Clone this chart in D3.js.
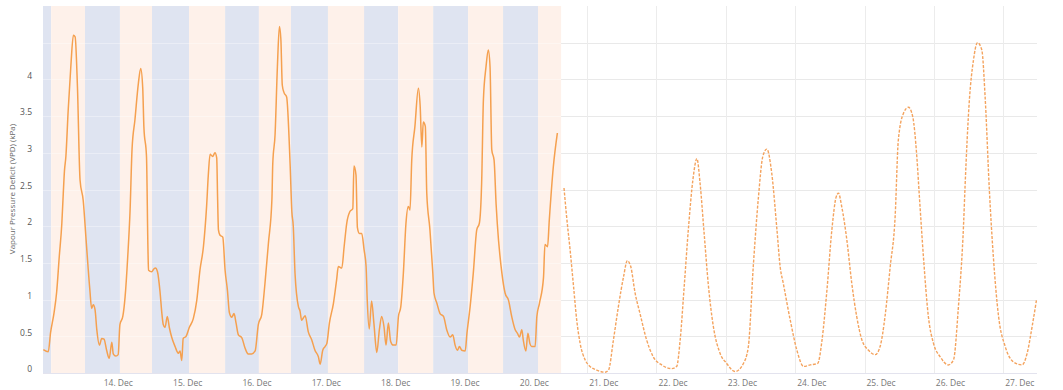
<!DOCTYPE html>
<html><head><meta charset="utf-8">
<script src="https://cdn.jsdelivr.net/npm/d3@7"></script>
<style>
html,body{margin:0;padding:0;background:#fff;}
svg{display:block;font-family:"Open Sans",sans-serif;}
</style>
</head><body>
<svg id="chart" width="1063" height="390"></svg>
<script>
// ---- data (hours counted from 13 Dec 00:00) ----
const baseDate = Date.UTC(2019, 11, 13);
const xDomainHours = [3.68, 347.7];
const yDomain = [0, 5];
const yGridTicks = [0, 0.5, 1, 1.5, 2, 2.5, 3, 3.5, 4, 4.5];
const yLabelTicks = [0, 0.5, 1, 1.5, 2, 2.5, 3, 3.5, 4];
const xTickDays = [14, 15, 16, 17, 18, 19, 20, 21, 22, 23, 24, 25, 26, 27];
const yAxisTitle = "Vapour Pressure Deficit (VPD) (kPa)";

const nightBands = [[3.68, 6.5], [18.2, 30.3], [41.4, 54.2], [66.7, 78.4], [89.5, 102.3], [114.8, 126.6], [138.7, 150.8], [162.9, 175.0]];
const dayBands = [[6.5, 18.2], [30.3, 41.4], [54.2, 66.7], [78.4, 89.5], [102.3, 114.8], [126.6, 138.7], [150.8, 162.9], [175.0, 183.0]];

const measured = [
 [3.8,0.32],[5.5,0.29],[6.3,0.55],[7.5,0.82],[8.4,1.10],[9.3,1.58],[10.2,2.04],[10.7,2.45],[11.1,2.75],[11.6,2.95],
 [12.4,3.58],[13.3,4.17],[14.2,4.60],[14.8,4.58],[15.6,3.90],[16.5,2.63],[17.6,2.35],[18.6,1.81],[19.9,1.13],[20.5,0.88],
 [21.1,0.93],[21.7,0.86],[22.3,0.59],[23.2,0.38],[24.0,0.47],[24.8,0.46],[25.7,0.31],[26.6,0.20],[27.5,0.42],[28.0,0.26],
 [28.9,0.23],[29.7,0.25],[30.3,0.66],[31.3,0.77],[32.1,1.04],[33.0,1.58],[33.8,2.20],[34.5,3.05],[35.5,3.45],[36.7,3.95],
 [37.5,4.15],[38.2,3.88],[38.6,3.35],[39.5,2.95],[40.0,1.70],[40.2,1.40],[41.3,1.38],[42.1,1.42],[42.6,1.43],[43.3,1.38],
 [44.2,1.10],[44.8,0.82],[45.3,0.66],[45.9,0.62],[46.7,0.77],[47.4,0.62],[48.2,0.49],[49.4,0.36],[50.5,0.27],[51.1,0.30],
 [51.7,0.17],[52.2,0.47],[53.2,0.50],[54.3,0.62],[55.7,0.74],[56.9,0.99],[58.0,1.40],[59.2,1.72],[60.3,2.27],[60.9,2.70],
 [61.5,2.98],[62.4,2.95],[63.2,3.00],[63.8,2.93],[64.1,2.40],[64.4,1.95],[64.9,1.88],[65.9,1.85],[66.7,1.40],[67.5,1.13],
 [68.2,0.82],[69.0,0.76],[69.8,0.81],[70.5,0.68],[71.3,0.52],[72.5,0.48],[73.6,0.34],[74.7,0.26],[75.9,0.26],[77.1,0.30],
 [78.2,0.66],[79.4,0.80],[80.5,1.22],[81.7,1.77],[82.9,2.36],[83.2,2.85],[84.0,3.25],[84.8,4.17],[85.5,4.72],[86.0,4.55],
 [86.5,3.92],[87.1,3.82],[88.0,3.76],[89.2,2.85],[89.8,2.20],[90.3,2.00],[90.9,1.36],[92.1,0.90],[92.6,0.85],[93.2,0.72],
 [94.4,0.78],[95.5,0.56],[96.7,0.45],[97.8,0.31],[99.0,0.22],[99.6,0.12],[100.5,0.31],[101.3,0.36],[101.9,0.40],[102.8,0.68],
 [104.2,0.95],[105.3,1.27],[105.9,1.45],[107.1,1.43],[107.9,1.72],[108.8,2.04],[109.9,2.20],[110.9,2.24],[111.3,2.82],[112.0,2.70],
 [112.5,1.98],[113.2,1.90],[114.0,1.90],[114.8,1.68],[115.5,1.45],[115.9,0.99],[116.6,0.60],[117.4,0.98],[118.2,0.68],[119.2,0.28],
 [120.1,0.59],[120.9,0.77],[121.7,0.63],[122.4,0.38],[123.2,0.68],[124.0,0.43],[124.9,0.38],[125.9,0.38],[126.7,0.77],[127.5,0.90],
 [128.4,1.36],[129.3,2.04],[130.1,2.27],[130.7,2.22],[131.3,2.90],[132.4,3.36],[133.6,3.88],[134.2,3.65],[134.8,3.08],[135.3,3.42],
 [136.0,3.36],[136.5,2.45],[137.6,1.95],[138.6,1.36],[139.0,1.09],[140.0,0.95],[141.1,0.81],[142.3,0.77],[143.4,0.59],[144.6,0.49],
 [145.5,0.52],[146.3,0.38],[147.1,0.31],[147.8,0.36],[148.6,0.31],[149.8,0.30],[150.4,0.54],[151.5,0.90],[152.6,1.36],[153.8,1.95],
 [154.7,2.04],[155.5,2.60],[156.1,3.72],[157.0,4.17],[157.8,4.40],[158.4,4.17],[159.0,3.04],[159.8,2.90],[160.5,2.30],[160.9,2.04],
 [162.5,1.36],[163.6,1.09],[164.8,0.99],[165.9,0.77],[167.1,0.59],[167.9,0.54],[168.6,0.49],[169.4,0.59],[169.9,0.45],[170.8,0.30],
 [171.5,0.54],[172.2,0.40],[172.8,0.36],[174.0,0.36],[174.6,0.77],[175.5,0.95],[176.9,1.30],[177.4,1.75],[178.3,1.72],[178.9,2.08],
 [180.3,2.81],[181.7,3.27]
];

const forecast = [
 [184.0,2.52],[184.9,2.13],[186.1,1.68],[187.3,1.18],[188.4,0.72],[189.6,0.40],[191.3,0.18],[193.0,0.09],[195.3,0.04],[198.2,0.01],
 [199.4,0.04],[201.1,0.45],[202.8,0.90],[204.6,1.31],[205.9,1.53],[207.1,1.45],[208.6,1.09],[210.3,0.81],[212.6,0.45],[214.9,0.22],
 [217.8,0.11],[221.3,0.06],[223.0,0.09],[224.2,0.45],[225.6,1.18],[227.1,1.99],[228.6,2.63],[230.0,2.92],[231.1,2.58],[232.5,1.90],
 [234.0,1.18],[235.7,0.63],[238.0,0.27],[240.3,0.13],[243.2,0.02],[246.1,0.13],[247.8,0.36],[249.5,1.45],[251.3,2.40],[252.8,2.95],
 [254.2,3.05],[255.9,2.72],[257.7,1.95],[258.8,1.45],[259.9,1.22],[262.3,0.72],[264.6,0.31],[266.9,0.09],[269.2,0.11],[271.8,0.13],
 [273.3,0.45],[275.0,1.13],[276.7,1.95],[278.2,2.40],[279.0,2.45],[280.1,2.27],[281.9,1.81],[283.6,1.22],[285.3,0.77],[287.1,0.45],
 [289.4,0.31],[291.7,0.25],[293.4,0.36],[295.1,0.77],[296.9,1.45],[298.6,2.13],[299.7,3.17],[301.5,3.54],[303.2,3.62],[304.7,3.49],
 [306.1,2.95],[307.0,2.40],[308.4,1.58],[310.1,0.77],[311.9,0.40],[314.2,0.22],[317.0,0.11],[318.8,0.18],[320.5,0.90],[322.3,2.04],
 [322.8,2.54],[324.3,3.72],[325.7,4.26],[327.1,4.50],[328.6,4.40],[329.8,3.72],[331.2,2.50],[332.6,1.58],[334.4,0.77],[336.7,0.36],
 [339.6,0.15],[342.5,0.11],[344.3,0.27],[346.0,0.63],[347.5,0.99]
];

// ---- drawing ----
const toDate = h => new Date(baseDate + h * 3600e3);
const margin = {left: 43, right: 1037, top: 6, bottom: 373};
const svg = d3.select("#chart");

const x = d3.scaleUtc().domain(xDomainHours.map(toDate)).range([margin.left, margin.right]);
const y = d3.scaleLinear().domain(yDomain).range([margin.bottom, margin.top]);

// grid
const grid = svg.append("g");
grid.selectAll("line.h").data(yGridTicks).join("line")
  .attr("x1", margin.left).attr("x2", margin.right)
  .attr("y1", d => Math.round(y(d)) + 0.5).attr("y2", d => Math.round(y(d)) + 0.5)
  .attr("stroke", "#e9e9e9").attr("stroke-width", 1);
const xTickDates = xTickDays.map(d => new Date(Date.UTC(2019, 11, d)));
grid.selectAll("line.v").data(xTickDates).join("line")
  .attr("x1", d => Math.round(x(d)) + 0.5).attr("x2", d => Math.round(x(d)) + 0.5)
  .attr("y1", margin.top).attr("y2", margin.bottom)
  .attr("stroke", "#ececec").attr("stroke-width", 1);

// bands
const bands = svg.append("g");
bands.selectAll("rect.night").data(nightBands).join("rect")
  .attr("x", d => x(toDate(d[0]))).attr("width", d => x(toDate(d[1])) - x(toDate(d[0])))
  .attr("y", margin.top).attr("height", margin.bottom - margin.top)
  .attr("fill", "#dfe4f1");
bands.selectAll("rect.day").data(dayBands).join("rect")
  .attr("x", d => x(toDate(d[0]))).attr("width", d => x(toDate(d[1])) - x(toDate(d[0])))
  .attr("y", margin.top).attr("height", margin.bottom - margin.top)
  .attr("fill", "#fef1ea");
// faint grid over bands
const bandEnd = x(toDate(dayBands[dayBands.length - 1][1]));
bands.selectAll("line.hb").data(yGridTicks.slice(1)).join("line")
  .attr("x1", margin.left).attr("x2", bandEnd)
  .attr("y1", d => Math.round(y(d)) + 0.5).attr("y2", d => Math.round(y(d)) + 0.5)
  .attr("stroke", "rgba(255,255,255,0.35)").attr("stroke-width", 1);

// x axis line
svg.append("line").attr("x1", margin.left).attr("x2", margin.right)
  .attr("y1", margin.bottom + 0.5).attr("y2", margin.bottom + 0.5)
  .attr("stroke", "#e3e3ee").attr("stroke-width", 1);

// x labels
const fmt = d3.utcFormat("%-d. %b");
svg.append("g").selectAll("text").data(xTickDates).join("text")
  .attr("x", d => x(d) + 2).attr("y", 386)
  .attr("font-size", 8.5).attr("fill", "#777").text(d => fmt(d));

// y labels
const yAxis = d3.axisLeft(y).tickValues(yLabelTicks).tickSize(0).tickPadding(0)
  .tickFormat(d => String(d));
const ya = svg.append("g").attr("transform", `translate(${margin.left - 11},0)`).call(yAxis);
ya.select(".domain").remove();
ya.selectAll("text").attr("font-size", 8.5).attr("fill", "#555")
  .attr("font-family", "Open Sans, sans-serif").attr("dy", "0.32em").attr("y", -4);

// y title
svg.append("text").attr("transform", "translate(12,189) rotate(-90)")
  .attr("text-anchor", "middle").attr("dy", "0.35em")
  .attr("font-size", 8).attr("fill", "#666").text(yAxisTitle);

// lines
const line = d3.line().x(d => x(toDate(d[0]))).y(d => y(d[1])).curve(d3.curveMonotoneX);
svg.append("path").datum(measured).attr("d", line)
  .attr("fill", "none").attr("stroke", "#f5a04f").attr("stroke-width", 1.5)
  .attr("stroke-linejoin", "round");
svg.append("path").datum(forecast).attr("d", line)
  .attr("fill", "none").attr("stroke", "#f4a35e").attr("stroke-width", 1.4)
  .attr("stroke-dasharray", "3,1.5");
</script>
</body></html>
